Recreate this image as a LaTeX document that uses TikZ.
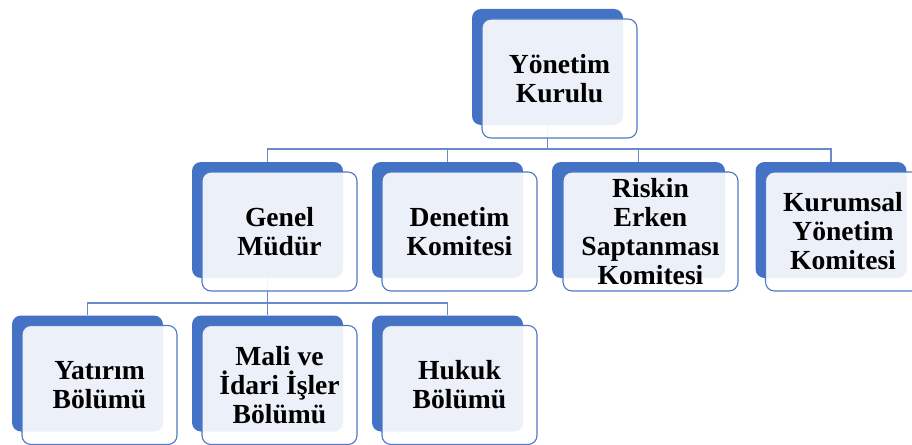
\documentclass[tikz,border=0pt]{standalone}
\usepackage{fontspec}
\setmainfont{Liberation Serif}
\usetikzlibrary{positioning,calc}
\definecolor{backblue}{HTML}{4472C4}
\definecolor{edgeblue}{HTML}{4F78C4}
\definecolor{connblue}{HTML}{6A8BCB}
\tikzset{
  backbox/.style={rectangle, rounded corners=9pt, fill=backblue, draw=none,
    minimum width=151pt, minimum height=116pt, inner sep=0pt},
  frontbox/.style={rectangle, rounded corners=9pt, draw=edgeblue, line width=1.1pt,
    fill=white, fill opacity=0.9, text opacity=1,
    minimum width=155pt, minimum height=119pt, inner sep=0pt,
    align=center, font=\fontsize{27.6}{29}\selectfont\bfseries},
  conn/.style={draw=connblue, line width=1.6pt}
}
\begin{document}
\begin{tikzpicture}[x=1pt,y=-1pt]
\useasboundingbox (0,0) rectangle (912,444);
\clip (0,0) rectangle (912,444);
% back boxes
\node[backbox] (top) at (547.5,67) {};
\node[backbox] (gm) at (267.5,220) {};
\node[backbox] (den) at (447.5,220) {};
\node[backbox, minimum width=173pt] (risk) at (638.5,220) {};
\node[backbox] (kur) at (831,220) {};
\node[backbox] (yat) at (87.5,373.5) {};
\node[backbox] (mali) at (267.5,373.5) {};
\node[backbox] (huk) at (447.5,373.5) {};
% connectors
\coordinate (bus1) at ($(top.south)+(0,24)$);
\coordinate (bus2) at ($(gm.south)+(0,25)$);
\draw[conn] (top.south) -- (bus1);
\draw[conn] (bus1) -| (gm.north);
\draw[conn] (bus1) -| (den.north);
\draw[conn] (bus1) -| (risk.north);
\draw[conn] (bus1) -| (kur.north);
\draw[conn] (gm.south) -- (bus2);
\draw[conn] (bus2) -| (yat.north);
\draw[conn] (bus2) -| (mali.north);
\draw[conn] (bus2) -| (huk.north);
% front boxes
\node[frontbox] (topf) at ($(top)+(12,11.5)$) {Yönetim\\Kurulu};
\node[frontbox] (gmf) at ($(gm)+(12,11.5)$) {Genel\\Müdür};
\node[frontbox] (denf) at ($(den)+(12,11.5)$) {Denetim\\Komitesi};
\node[frontbox, minimum width=175pt] (riskf) at ($(risk)+(12,11.5)$) {Riskin\\Erken\\Saptanması\\Komitesi};
\node[frontbox] (kurf) at ($(kur)+(12,11.5)$) {Kurumsal\\Yönetim\\Komitesi};
\node[frontbox] (yatf) at ($(yat)+(12,11.5)$) {Yatırım\\Bölümü};
\node[frontbox] (malif) at ($(mali)+(12,11.5)$) {Mali ve\\İdari İşler\\Bölümü};
\node[frontbox] (hukf) at ($(huk)+(12,11.5)$) {Hukuk\\Bölümü};
\end{tikzpicture}
\end{document}
